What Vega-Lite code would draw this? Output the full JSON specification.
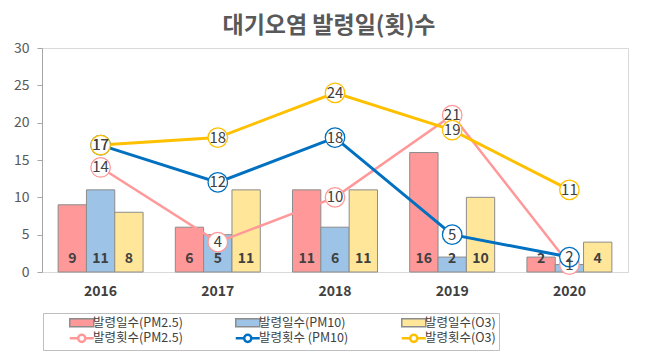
{
  "$schema": "https://vega.github.io/schema/vega-lite/v6.json",
  "width": 586,
  "height": 224,
  "autosize": {"type": "none"},
  "padding": {"left": 42, "top": 48, "right": 31, "bottom": 83},
  "background": "white",
  "title": {"text": "대기오염 발령일(횟)수", "font": "Noto Sans CJK KR", "fontSize": 23, "fontWeight": "bold", "color": "#595959", "offset": 3, "anchor": "middle", "dx": -6},
  "config": {
    "view": {"stroke": "#d9d9d9"},
    "font": "Noto Sans CJK KR"
  },
  "datasets": {
    "days": [
      {"year": "2016", "series": "발령일수(PM2.5)", "value": 9},
      {"year": "2016", "series": "발령일수(PM10)", "value": 11},
      {"year": "2016", "series": "발령일수(O3)", "value": 8},
      {"year": "2017", "series": "발령일수(PM2.5)", "value": 6},
      {"year": "2017", "series": "발령일수(PM10)", "value": 5},
      {"year": "2017", "series": "발령일수(O3)", "value": 11},
      {"year": "2018", "series": "발령일수(PM2.5)", "value": 11},
      {"year": "2018", "series": "발령일수(PM10)", "value": 6},
      {"year": "2018", "series": "발령일수(O3)", "value": 11},
      {"year": "2019", "series": "발령일수(PM2.5)", "value": 16},
      {"year": "2019", "series": "발령일수(PM10)", "value": 2},
      {"year": "2019", "series": "발령일수(O3)", "value": 10},
      {"year": "2020", "series": "발령일수(PM2.5)", "value": 2},
      {"year": "2020", "series": "발령일수(PM10)", "value": 1},
      {"year": "2020", "series": "발령일수(O3)", "value": 4}
    ],
    "counts": [
      {"year": "2016", "series": "발령횟수(PM2.5)", "value": 14},
      {"year": "2017", "series": "발령횟수(PM2.5)", "value": 4},
      {"year": "2018", "series": "발령횟수(PM2.5)", "value": 10},
      {"year": "2019", "series": "발령횟수(PM2.5)", "value": 21},
      {"year": "2020", "series": "발령횟수(PM2.5)", "value": 1},
      {"year": "2016", "series": "발령횟수 (PM10)", "value": 17},
      {"year": "2017", "series": "발령횟수 (PM10)", "value": 12},
      {"year": "2018", "series": "발령횟수 (PM10)", "value": 18},
      {"year": "2019", "series": "발령횟수 (PM10)", "value": 5},
      {"year": "2020", "series": "발령횟수 (PM10)", "value": 2},
      {"year": "2016", "series": "발령횟수(O3)", "value": 17},
      {"year": "2017", "series": "발령횟수(O3)", "value": 18},
      {"year": "2018", "series": "발령횟수(O3)", "value": 24},
      {"year": "2019", "series": "발령횟수(O3)", "value": 19},
      {"year": "2020", "series": "발령횟수(O3)", "value": 11}
    ]
  },
  "encoding": {
    "x": {
      "field": "year", "type": "ordinal",
      "scale": {"paddingInner": 0.275, "paddingOuter": 0.1375},
      "axis": {"title": null, "labelAngle": 0, "labelFont": "Noto Sans CJK KR", "labelFontSize": 14, "labelFontWeight": "bold", "labelColor": "#404040", "labelPadding": 12, "ticks": false, "domainColor": "#d9d9d9", "domainWidth": 1}
    },
    "y": {
      "field": "value", "type": "quantitative",
      "scale": {"domain": [0, 30], "nice": false},
      "axis": {"title": null, "values": [0, 5, 10, 15, 20, 25, 30], "grid": false, "labelFont": "Noto Sans CJK KR", "labelFontSize": 14, "labelColor": "#595959", "labelPadding": 8, "tickSize": 5, "tickColor": "#a6a6a6", "domainColor": "#a6a6a6", "domainWidth": 1}
    }
  },
  "layer": [
    {
      "data": {"name": "days"},
      "mark": {"type": "bar", "stroke": "#8c8c8c", "strokeWidth": 1},
      "encoding": {
        "xOffset": {"field": "series", "type": "nominal", "scale": {"domain": ["발령일수(PM2.5)", "발령일수(PM10)", "발령일수(O3)"], "paddingInner": 0, "paddingOuter": 0}},
        "fill": {
          "field": "series", "type": "nominal",
          "scale": {"domain": ["발령일수(PM2.5)", "발령일수(PM10)", "발령일수(O3)"], "range": ["#FF9999", "#9DC3E6", "#FFE699"]},
          "legend": {
            "title": "　　　　　　　　　　　　　　　　　　　　　　　　　　　　　　　　　　　　　　", "titleOrient": "bottom", "titleFontSize": 14, "titlePadding": 3, "titleLimit": 1000, "titleAnchor": "start",
            "orient": "none", "legendX": 1, "legendY": 265, "columns": 3, "direction": "horizontal",
            "gridAlign": "all", "columnPadding": 29, "rowPadding": 0, "padding": 3,
            "strokeColor": "#bfbfbf",
            "labelFont": "Noto Sans CJK KR", "labelFontSize": 12.5, "labelColor": "#404040", "labelLimit": 200,
            "symbolType": "M-3,-1H3V1H-3Z", "symbolSize": 64, "symbolOffset": 29.5, "labelOffset": 5
          }
        }
      }
    },
    {
      "data": {"name": "days"},
      "mark": {"type": "text", "font": "Noto Sans CJK KR", "fontSize": 14, "fontWeight": "bold", "color": "#404040", "baseline": "alphabetic", "dy": -9},
      "encoding": {
        "xOffset": {"field": "series", "type": "nominal", "scale": {"domain": ["발령일수(PM2.5)", "발령일수(PM10)", "발령일수(O3)"], "paddingInner": 0, "paddingOuter": 0}},
        "y": {"datum": 0},
        "text": {"field": "value", "type": "quantitative"}
      }
    },
    {
      "data": {"name": "counts"},
      "transform": [{"filter": "datum.series === '발령횟수(PM2.5)'"}],
      "mark": {"type": "line", "strokeWidth": 2.5},
      "encoding": {
        "stroke": {
          "field": "series", "type": "nominal",
          "scale": {"domain": ["발령횟수(PM2.5)", "발령횟수 (PM10)", "발령횟수(O3)"], "range": ["#FF9999", "#0070C0", "#FFC000"]},
          "legend": {
            "title": null, "orient": "none", "legendX": 1, "legendY": 281, "columns": 3, "direction": "horizontal",
            "gridAlign": "all", "columnPadding": 29, "rowPadding": 0, "padding": 3,
            "labelFont": "Noto Sans CJK KR", "labelFontSize": 12.5, "labelColor": "#404040", "labelLimit": 200,
            "symbolType": "M-3,0H-0.9M0.9,0H3M0.9,0A0.9,0.9,0,1,1,-0.9,0A0.9,0.9,0,1,1,0.9,0", "symbolSize": 64, "symbolOffset": 29.5, "labelOffset": 5,
            "symbolFillColor": "white", "symbolStrokeWidth": 2.5
          }
        }
      }
    },
    {
      "data": {"name": "counts"},
      "transform": [{"filter": "datum.series !== '발령횟수(PM2.5)'"}],
      "mark": {"type": "line", "strokeWidth": 3},
      "encoding": {
        "stroke": {"field": "series", "type": "nominal"}
      }
    },
    {
      "data": {"name": "counts"},
      "mark": {"type": "point", "shape": "circle", "size": 380, "filled": false, "fill": "white", "strokeWidth": 1.3, "opacity": 1},
      "encoding": {
        "stroke": {"field": "series", "type": "nominal"}
      }
    },
    {
      "data": {"name": "counts"},
      "mark": {"type": "text", "font": "Noto Sans CJK KR", "fontSize": 15, "color": "#404040", "baseline": "middle"},
      "encoding": {
        "text": {"field": "value", "type": "quantitative"}
      }
    }
  ]
}
